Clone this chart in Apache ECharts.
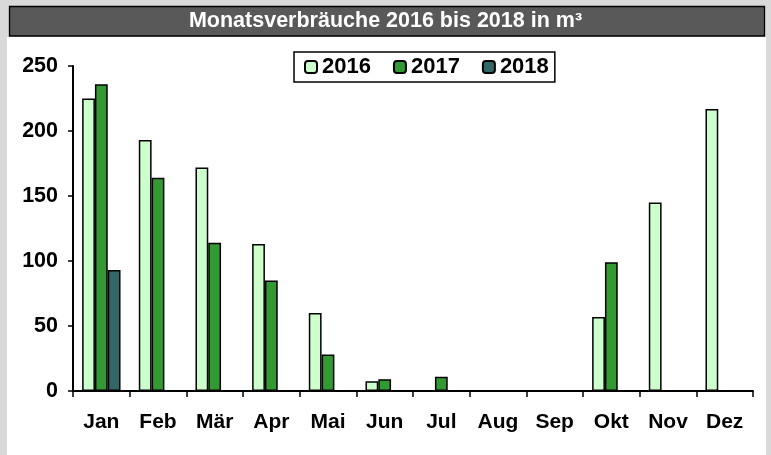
<!DOCTYPE html>
<html>
<head>
<meta charset="utf-8">
<script src="https://cdn.jsdelivr.net/npm/echarts@6/dist/echarts.min.js"></script>
<style>
html,body{margin:0;padding:0;background:#d9d9d9;}
#chart{width:771px;height:455px;}
</style>
</head>
<body>
<div id="chart"></div>
<script>
var titleText = 'Monatsverbräuche 2016 bis 2018 in m³';
var months = ['Jan','Feb','Mär','Apr','Mai','Jun','Jul','Aug','Sep','Okt','Nov','Dez'];
var seriesNames = ['2016','2017','2018'];
var values2016 = [225, 193, 172, 113, 60, 7.5, null, null, null, 57, 145, 217];
var values2017 = [236, 164, 114, 85, 28, 9, 11, null, null, 99, null, null];
var values2018 = [93, null, null, null, null, null, null, null, null, null, null, null];
var yTicks = [0, 50, 100, 150, 200, 250];
var colors = ['#ccffcc', '#339933', '#336666'];

var font = 'Liberation Sans, Arial, sans-serif';
var chart = echarts.init(document.getElementById('chart'), null, {renderer: 'canvas'});
var allValues = [values2016, values2017, values2018];

chart.setOption({
  backgroundColor: '#d9d9d9',
  animation: false,
  graphic: [
    {type: 'rect', z: -10, shape: {x: 7, y: 37, width: 759, height: 418}, style: {fill: '#ffffff'}},
    {type: 'rect', z: -9, shape: {x: 9.5, y: 6.5, width: 755, height: 29.5}, style: {fill: '#595959', stroke: '#000000', lineWidth: 1.3}}
  ],
  title: {
    text: titleText,
    left: 'center',
    top: 8,
    padding: 0,
    textStyle: {color: '#ffffff', fontFamily: font, fontWeight: 'bold', fontSize: 21.5, lineHeight: 26}
  },
  legend: {
    data: seriesNames,
    left: 294,
    top: 52,
    orient: 'horizontal',
    padding: [4, 6, 4, 10],
    itemGap: 22,
    itemWidth: 12,
    itemHeight: 12,
    borderColor: '#000000',
    borderWidth: 1.5,
    backgroundColor: '#ffffff',
    textStyle: {color: '#000000', fontFamily: font, fontWeight: 'bold', fontSize: 22}
  },
  grid: {left: 73, right: 18, top: 66, bottom: 64, containLabel: false},
  xAxis: {
    type: 'category',
    data: months,
    axisLine: {show: true, lineStyle: {color: '#000000', width: 2}},
    axisTick: {show: true, alignWithLabel: false, length: 6, lineStyle: {color: '#000000', width: 1.5}},
    axisLabel: {color: '#000000', fontFamily: font, fontWeight: 'bold', fontSize: 21, margin: 21, interval: 0},
    splitLine: {show: false}
  },
  yAxis: {
    type: 'value',
    min: yTicks[0],
    max: yTicks[yTicks.length - 1],
    interval: yTicks[1] - yTicks[0],
    axisLine: {show: true, lineStyle: {color: '#000000', width: 2}},
    axisTick: {show: true, inside: false, length: 5, lineStyle: {color: '#000000', width: 1.5}},
    axisLabel: {color: '#000000', fontFamily: font, fontWeight: 'bold', fontSize: 21.5, margin: 15},
    splitLine: {show: false}
  },
  series: seriesNames.map(function (name, i) {
    return {
      name: name,
      type: 'bar',
      data: allValues[i],
      barWidth: 12.8,
      barGap: '0%',
      itemStyle: {color: colors[i], borderColor: '#000000', borderWidth: 1.5}
    };
  })
});
</script>
</body>
</html>
